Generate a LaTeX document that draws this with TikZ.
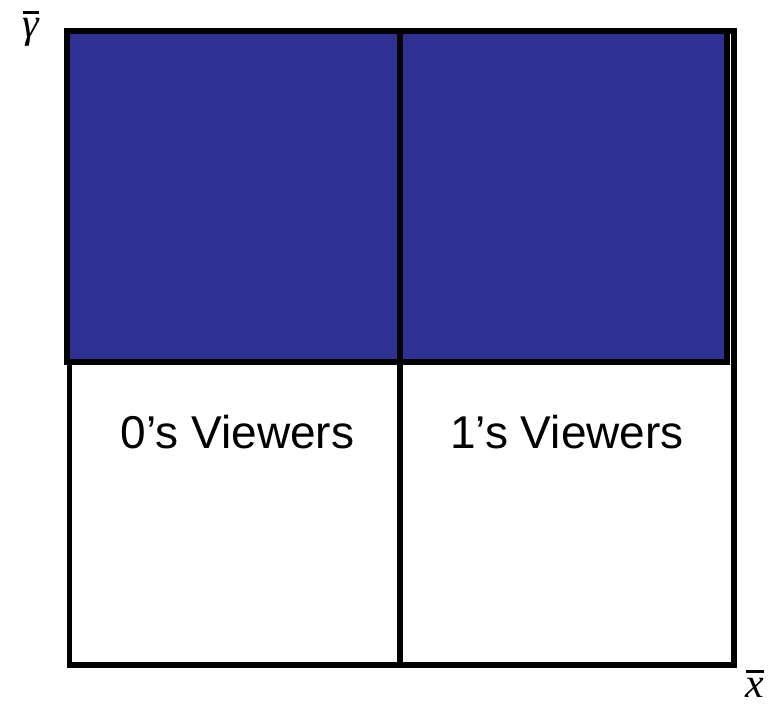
\documentclass[tikz,border=0pt]{standalone}
\usepackage{fontspec}
\setmainfont{Liberation Sans}
\newfontfamily\axisfont{Liberation Serif}
\usepackage{tikz}
\usetikzlibrary{positioning}
\definecolor{cellblue}{RGB}{46,49,146}
\newcommand{\barred}[1]{\vbox{\hrule height 2.4pt\kern 5pt\hbox{#1}}}

\begin{document}
\begin{tikzpicture}[x=1pt, y=-1pt]
    % styles
    \tikzstyle{frame} = [rectangle, draw, line width=5.5pt, inner sep=0pt, outer sep=0pt, minimum width=664.5pt, minimum height=634pt]
    \tikzstyle{cell} = [rectangle, draw, line width=6pt, fill=cellblue, inner sep=0pt, outer sep=0pt, minimum height=331pt]
    \tikzstyle{label} = [font=\fontsize{46}{52}\selectfont, inner sep=0pt, anchor=base]
    \tikzstyle{axis} = [font=\fontsize{42}{46}\selectfont\axisfont\itshape, inner sep=0pt]

    \useasboundingbox (0,0) rectangle (777,710);

    % boxes
    \node (frame) [frame, anchor=north west] at (69.5,31) {};
    \node (top0) [cell, minimum width=333pt, anchor=north west] at (67,31) {};
    \node (top1) [cell, minimum width=327pt, anchor=north west] at (top0.north east) {};
    \draw [line width=5.5pt] (top0.south east) -- (top0.south east |- frame.south);

    % texts
    \node (view0) [label] at (237.5,448) {0’s Viewers};
    \node (view1) [label] at (567,448) {1’s Viewers};
    \node (gam) [axis] at (31,29) {\barred{γ}};
    \node (xbar) [axis, anchor=base] at (755,697) {\barred{x}};
\end{tikzpicture}
\end{document}
